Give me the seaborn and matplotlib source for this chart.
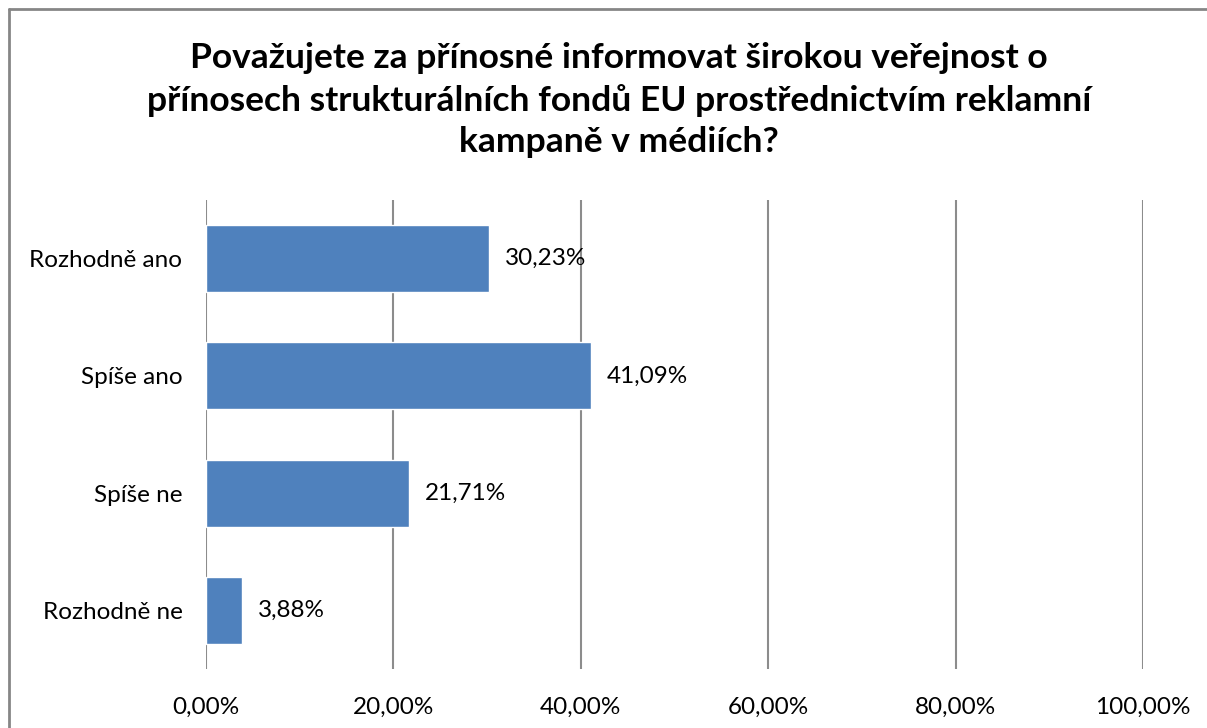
import pandas as pd
import seaborn as sns
import matplotlib.pyplot as plt
from matplotlib.lines import Line2D

# data
categories = ["Rozhodně ano", "Spíše ano", "Spíše ne", "Rozhodně ne"]
shares = [30.23, 41.09, 21.71, 3.88]
ticks = [0, 20, 40, 60, 80, 100]
tick_labels = ["0,00%", "20,00%", "40,00%", "60,00%", "80,00%", "100,00%"]
title = ("Považujete za přínosné informovat širokou veřejnost o\n"
         "přínosech strukturálních fondů EU prostřednictvím reklamní\n"
         "kampaně v médiích?")

df = pd.DataFrame({"kategorie": categories, "podil": shares})

sns.set_style("white")
plt.rcParams['font.family'] = ['Lato', 'DejaVu Sans']
plt.rcParams['text.color'] = 'black'
plt.rcParams['xtick.color'] = 'black'
plt.rcParams['ytick.color'] = 'black'

fig = plt.figure(figsize=(12.07, 7.28), dpi=100)
ax = fig.add_axes([206 / 1207, 1 - 669 / 728, 937 / 1207, 469 / 728])

sns.barplot(data=df, y="kategorie", x="podil", orient="h", color="#4F81BD",
            saturation=1, width=0.57, ax=ax, zorder=3)

ax.set_xlim(0, 100)
ax.set_xticks(ticks)
ax.set_xticklabels(tick_labels, fontsize=17.5)
ax.tick_params(axis="y", labelsize=17.5, length=0, pad=17, labelcolor="black")
ax.tick_params(axis="x", length=0, pad=20, labelcolor="black")
ax.set_xlabel("")
ax.set_ylabel("")
for t in ticks:
    ax.axvline(t, color="#8C8C8C", lw=1.5, zorder=1)
for s in ax.spines.values():
    s.set_visible(False)

for i, v in enumerate(shares):
    ax.text(v + 1.7, i, f"{v:.2f}%".replace(".", ","), va="center", ha="left",
            fontsize=17.5, color="black")

fig.suptitle(title, fontsize=25.5, fontweight="bold", y=1 - 42 / 728,
             va="top", linespacing=1.36, x=619 / 1207, color="black")

# chart border (left and top edges visible)
fig.add_artist(Line2D([9 / 1207, 9 / 1207], [0, 1 - 9 / 728], color="#868686",
                      lw=2, transform=fig.transFigure))
fig.add_artist(Line2D([9 / 1207, 1], [1 - 9 / 728, 1 - 9 / 728], color="#868686",
                      lw=2, transform=fig.transFigure))

fig.savefig("out.png", dpi=100)
